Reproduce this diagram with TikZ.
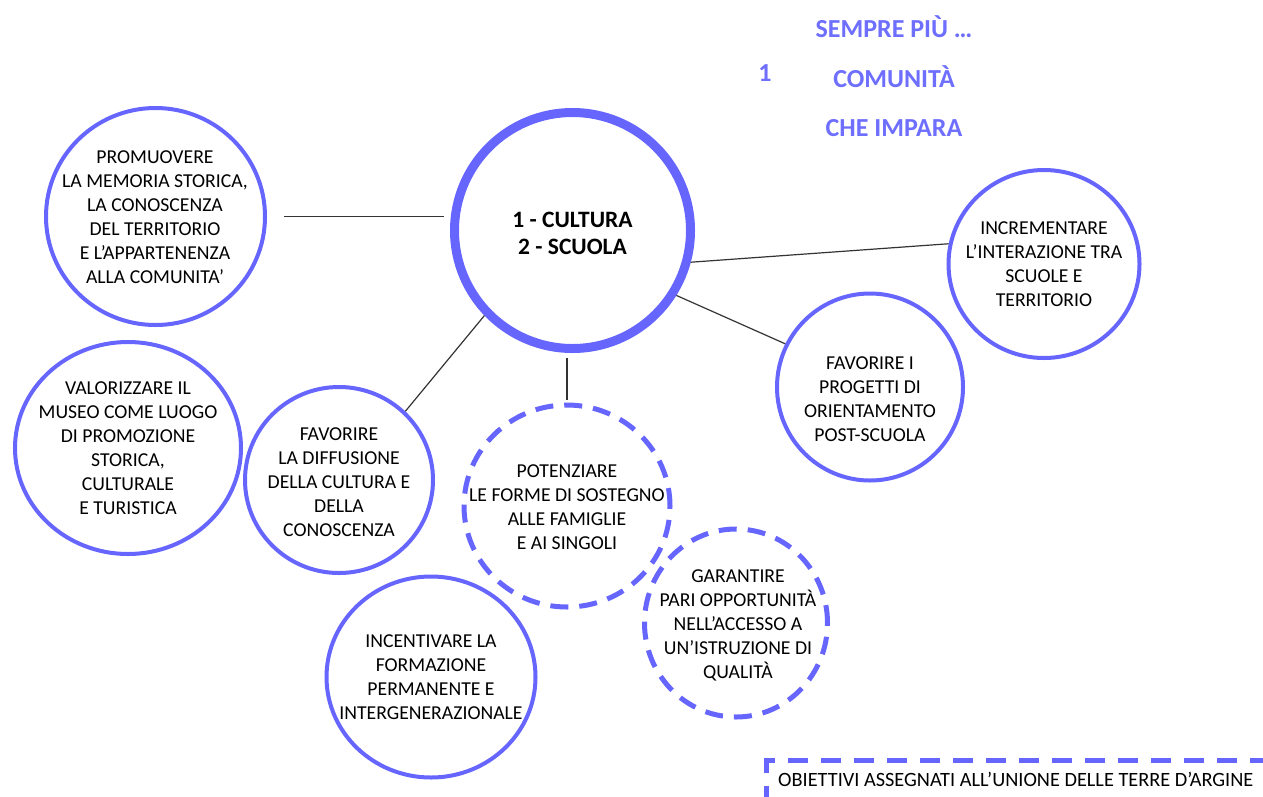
\documentclass[tikz,border=0pt]{standalone}
\usepackage{fontspec}
\setmainfont{Carlito}
\usetikzlibrary{shapes.geometric,calc}
\definecolor{cblue}{RGB}{102,102,255}
\definecolor{tblue}{RGB}{110,110,255}
\begin{document}
\begin{tikzpicture}[x=1pt,y=-1pt,
  goal/.style={ellipse, draw=cblue, line width=4pt, inner sep=0pt},
  goaldash/.style={goal, dash pattern=on 18pt off 11pt, line width=5pt},
  gtext/.style={align=center, font=\fontsize{19.7}{24}\selectfont, text=black},
  link/.style={draw=black!80, line width=1.2pt},
  ttl/.style={font=\fontsize{26}{30}\selectfont\bfseries, text=tblue}]
\useasboundingbox (0,0) rectangle (1263,796);

% circles
\node[goal, line width=9pt, minimum size=236pt] (ctr) at (572.5,230.5) {};
\node[goal, minimum width=219pt, minimum height=217pt] (promu) at (155.5,216.5) {};
\node[goal, minimum width=226pt, minimum height=212pt] (valor) at (128,448) {};
\node[goal, minimum width=188pt, minimum height=186pt] (diff) at (339,480) {};
\node[goal, minimum width=209pt, minimum height=201pt] (incent) at (431,677) {};
\node[goaldash, minimum width=206pt, minimum height=202pt] (pot) at (567,506) {};
\node[goaldash, minimum width=183pt, minimum height=188pt] (gar) at (736,623) {};
\node[goal, minimum width=186pt, minimum height=187pt] (prog) at (870,387) {};
\node[goal, minimum width=191pt, minimum height=188pt] (incr) at (1044,264) {};

% texts
\node[font=\fontsize{23.5}{27}\selectfont\bfseries, align=center] (ctrT) at (572.5,233) {1 - CULTURA\\2 - SCUOLA};
\node[gtext] (promuT) at (155,217) {PROMUOVERE\\LA MEMORIA STORICA,\\LA CONOSCENZA\\DEL TERRITORIO\\E L’APPARTENENZA\\ALLA COMUNITA’};
\node[gtext] (valorT) at (128,448) {VALORIZZARE IL\\MUSEO COME LUOGO\\DI PROMOZIONE\\STORICA,\\CULTURALE\\E TURISTICA};
\node[gtext] (diffT) at (339,482) {FAVORIRE\\LA DIFFUSIONE\\DELLA CULTURA E\\DELLA\\CONOSCENZA};
\node[gtext] (incentT) at (431,677) {INCENTIVARE LA\\FORMAZIONE\\PERMANENTE E\\INTERGENERAZIONALE};
\node[gtext] (potT) at (567,507) {POTENZIARE\\LE FORME DI SOSTEGNO\\ALLE FAMIGLIE\\E AI SINGOLI};
\node[gtext] (garT) at (738,625) {GARANTIRE\\PARI OPPORTUNITÀ\\NELL’ACCESSO A\\UN’ISTRUZIONE DI\\QUALITÀ};
\node[gtext] (progT) at (870,399) {FAVORIRE I\\PROGETTI DI\\ORIENTAMENTO\\POST-SCUOLA};
\node[gtext] (incrT) at (1044,264) {INCREMENTARE\\L’INTERAZIONE TRA\\SCUOLE E\\TERRITORIO};

% links
\draw[link, shorten <=17pt, shorten >=6pt] (promu.east) -- (promu.east -| ctr.west);
\draw[link] (ctr.-15) -- (incr.168);
\draw[link] (ctr.-32) -- (prog.153);
\draw[link] (ctr.224) -- (diff.46);
\draw[link, shorten <=5pt, shorten >=3pt] (pot.north |- ctr.south) -- (pot.north);

% title
\node[ttl] (t1) at (894,27) {SEMPRE PIÙ …};
\node[ttl] (t2) at (894,77) {COMUNITÀ};
\node[ttl] (t3) at (894,128) {CHE IMPARA};
\node[ttl] (tn) at (765,73) {1};

% bottom box
\node[draw=cblue, line width=5pt, dash pattern=on 20pt off 13pt, anchor=north west,
      minimum width=540pt, minimum height=50pt, inner sep=0pt] (obj) at (764,758) {};
\node[anchor=west, inner sep=0pt, font=\fontsize{20.3}{24}\selectfont] (objT) at (778,779) {OBIETTIVI ASSEGNATI ALL’UNIONE DELLE TERRE D’ARGINE};
\end{tikzpicture}
\end{document}
